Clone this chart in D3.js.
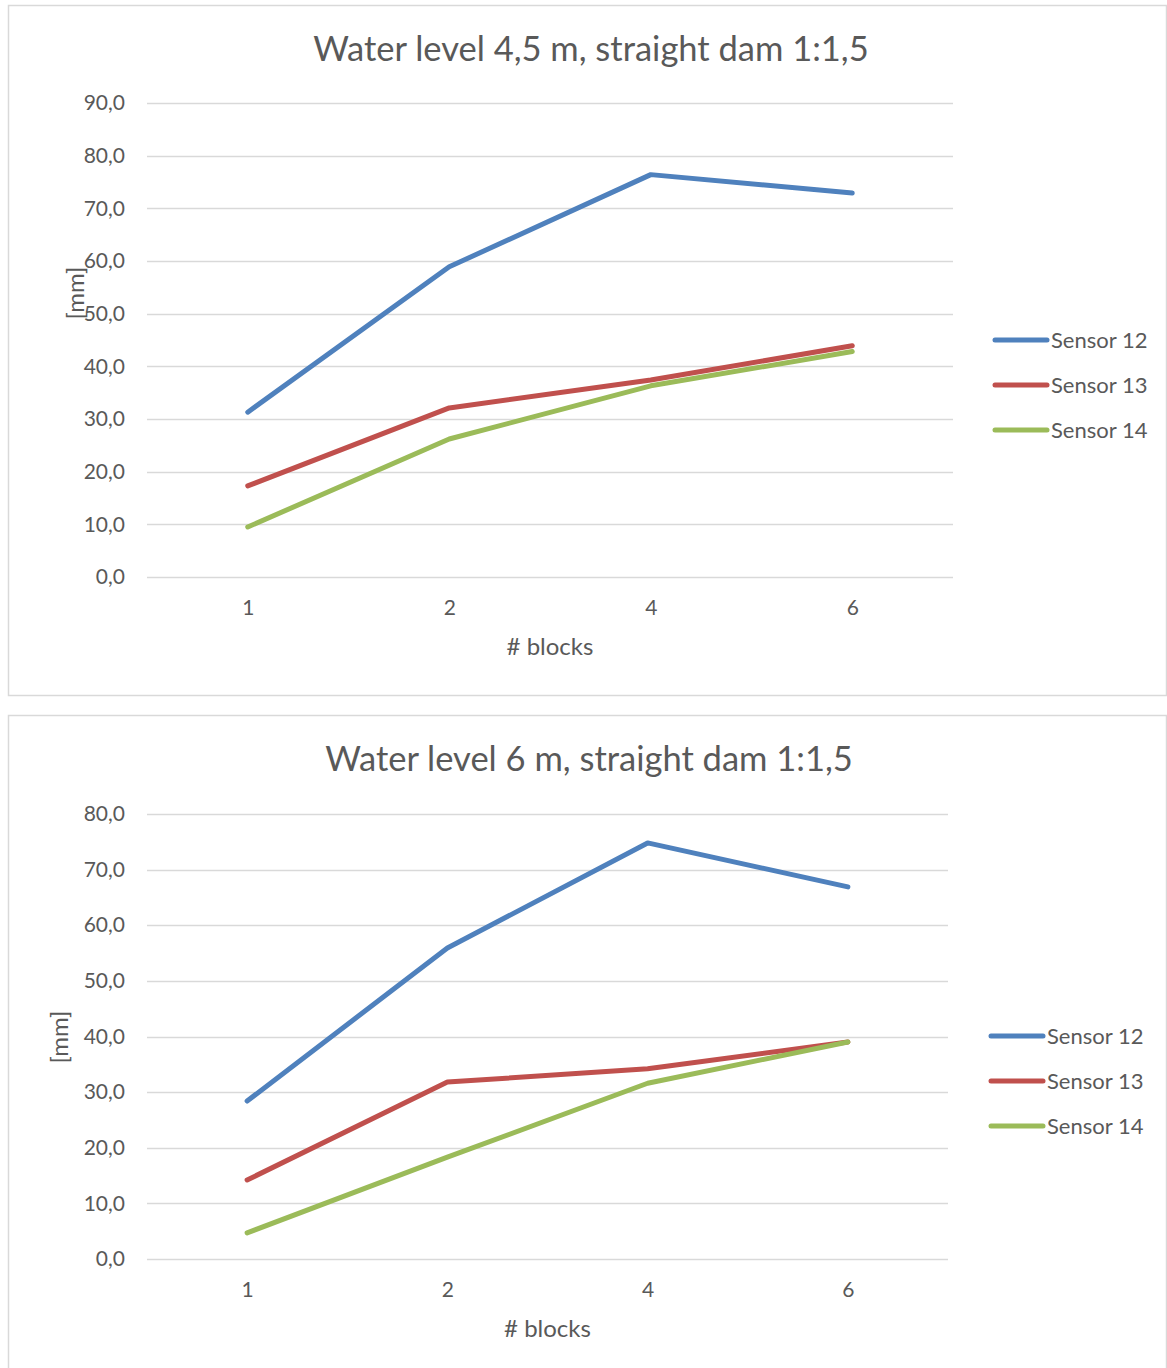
<!DOCTYPE html>
<html>
<head>
<meta charset="utf-8">
<script src="https://cdn.jsdelivr.net/npm/d3@7"></script>
<style>
  body { margin: 0; background: #fff; }
  svg text { font-family: Lato, "Open Sans", sans-serif; fill: #595959; }
</style>
</head>
<body>
<svg id="chart" width="1167" height="1368"></svg>
<script>
const blocks = ["1", "2", "4", "6"];
const sensorNames = ["Sensor 12", "Sensor 13", "Sensor 14"];
const sensorColors = ["#4F81BD", "#C0504D", "#9BBB59"];

// water level 4,5 m
const level45Sensor12 = [31.3, 58.9, 76.4, 72.9];
const level45Sensor13 = [17.3, 32.1, 37.4, 43.9];
const level45Sensor14 = [9.5, 26.2, 36.3, 42.8];
const level45Ticks = [0, 10, 20, 30, 40, 50, 60, 70, 80, 90];

// water level 6 m
const level6Sensor12 = [28.4, 55.9, 74.8, 66.9];
const level6Sensor13 = [14.2, 31.8, 34.2, 39.0];
const level6Sensor14 = [4.7, 18.3, 31.6, 39.0];
const level6Ticks = [0, 10, 20, 30, 40, 50, 60, 70, 80];

const fmt = d3.formatLocale({ decimal: ",", thousands: ".", grouping: [3], currency: ["", ""] }).format(".1f");

const svg = d3.select("#chart");

function drawChart(opts) {
    const g = svg.append("g");

    // chart frame
    g.append("rect")
        .attr("x", opts.frame[0] + 0.5)
        .attr("y", opts.frame[1] + 0.5)
        .attr("width", opts.frame[2])
        .attr("height", opts.frame[3])
        .attr("fill", "#fff")
        .attr("stroke", "#d9d9d9")
        .attr("stroke-width", 1.5);

    const x = d3.scalePoint()
        .domain(blocks)
        .range([opts.left, opts.right])
        .padding(0.5);

    const y = d3.scaleLinear()
        .domain([0, d3.max(opts.ticks)])
        .range([opts.bottom, opts.top]);

    // gridlines
    g.append("g")
        .selectAll("line")
        .data(opts.ticks)
        .join("line")
        .attr("x1", opts.left)
        .attr("x2", opts.right)
        .attr("y1", d => Math.round(y(d)) + 0.5)
        .attr("y2", d => Math.round(y(d)) + 0.5)
        .attr("stroke", "#d9d9d9")
        .attr("stroke-width", 1.5);

    const yAxis = g.append("g")
        .attr("transform", `translate(${opts.left}, 0)`)
        .call(d3.axisLeft(y).tickValues(opts.ticks).tickFormat(fmt).tickSize(0).tickPadding(22));
    yAxis.select(".domain").remove();
    yAxis.selectAll("text")
        .style("font-size", "21px")
        .attr("fill", null);

    const xAxis = g.append("g")
        .attr("transform", `translate(0, ${opts.bottom})`)
        .call(d3.axisBottom(x).tickSize(0).tickPadding(23));
    xAxis.select(".domain").remove();
    xAxis.selectAll("text")
        .style("font-size", "21px")
        .attr("fill", null);

    // title
    g.append("text")
        .attr("x", opts.titleX)
        .attr("y", opts.titleY)
        .attr("text-anchor", "middle")
        .style("font-size", "34.5px")
        .text(opts.title);

    // axis titles
    g.append("text")
        .attr("x", (opts.left + opts.right) / 2)
        .attr("y", opts.bottom + 78)
        .attr("text-anchor", "middle")
        .style("font-size", "24px")
        .text("# blocks");

    g.append("text")
        .attr("transform", `translate(${opts.yLabelX}, ${opts.yLabelY}) rotate(-90)`)
        .attr("text-anchor", "middle")
        .style("font-size", "24px")
        .text("[mm]");

    const line = d3.line()
        .x((d, i) => x(blocks[i]))
        .y(d => y(d));

    g.append("g")
        .selectAll("path")
        .data(opts.series)
        .join("path")
        .attr("d", d => line(d))
        .attr("fill", "none")
        .attr("stroke", (d, i) => sensorColors[i])
        .attr("stroke-width", 5)
        .attr("stroke-linecap", "round")
        .attr("stroke-linejoin", "round");

    // legend
    const legend = g.append("g")
        .selectAll("g")
        .data(sensorNames)
        .join("g")
        .attr("transform", (d, i) => `translate(${opts.legendX}, ${opts.legendY + i * 45})`);

    legend.append("line")
        .attr("x1", 0)
        .attr("x2", 52)
        .attr("stroke", (d, i) => sensorColors[i])
        .attr("stroke-width", 5)
        .attr("stroke-linecap", "round");

    legend.append("text")
        .attr("x", 56)
        .attr("dy", "0.35em")
        .style("font-size", "22px")
        .text(d => d);
}

drawChart({
    frame: [8, 5, 1158, 690],
    title: "Water level 4,5 m, straight dam 1:1,5",
    titleX: 591, titleY: 61,
    left: 147, right: 953, top: 103, bottom: 577,
    ticks: level45Ticks,
    series: [level45Sensor12, level45Sensor13, level45Sensor14],
    yLabelX: 84, yLabelY: 293,
    legendX: 995, legendY: 340
});

drawChart({
    frame: [8, 715, 1158, 680],
    title: "Water level 6 m, straight dam 1:1,5",
    titleX: 589, titleY: 771,
    left: 147, right: 948, top: 814, bottom: 1259,
    ticks: level6Ticks,
    series: [level6Sensor12, level6Sensor13, level6Sensor14],
    yLabelX: 68, yLabelY: 1037,
    legendX: 991, legendY: 1036
});
</script>
</body>
</html>
